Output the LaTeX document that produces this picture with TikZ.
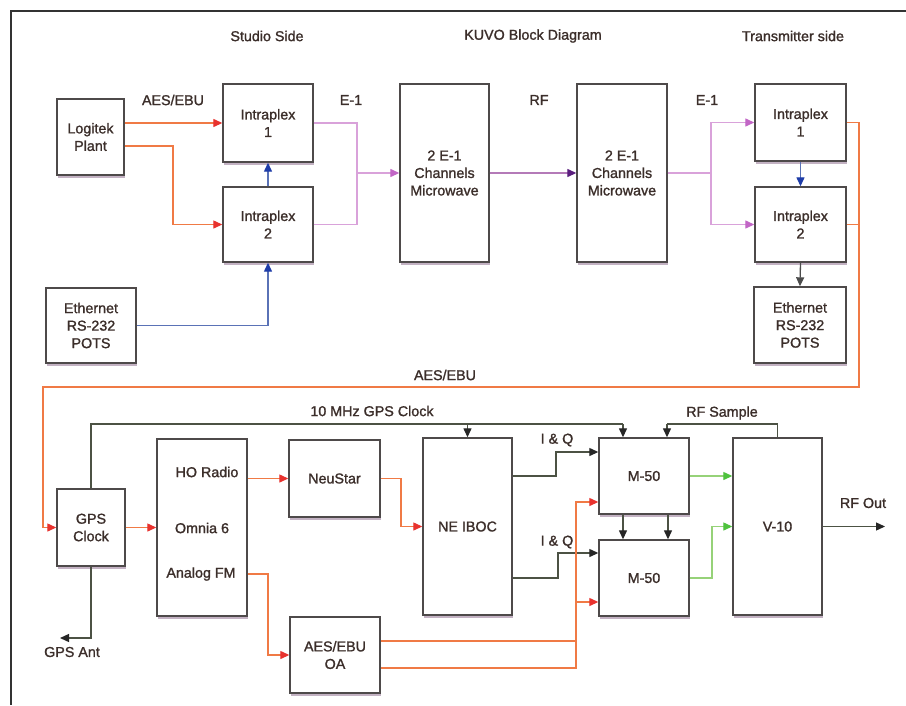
\documentclass[tikz,border=0pt]{standalone}
\usepackage{fontspec}
\setmainfont{Liberation Sans}[BoldFont=Liberation Sans, BoldFeatures={FakeBold=1.3}]
\usetikzlibrary{arrows.meta,shadows,calc}
\definecolor{txt}{HTML}{3B2E2A}
\definecolor{boxline}{HTML}{4E4A4A}
\definecolor{aesline}{HTML}{F07A45}
\definecolor{aestip}{HTML}{E8322E}
\definecolor{eline}{HTML}{D9A2DA}
\definecolor{etip}{HTML}{C266C6}
\definecolor{rfline}{HTML}{B47AB8}
\definecolor{rftip}{HTML}{5A1E7E}
\definecolor{ctlline}{HTML}{5A72B6}
\definecolor{ctltip}{HTML}{1E3CA8}
\definecolor{clkline}{HTML}{4C5244}
\definecolor{grline}{HTML}{96D278}
\definecolor{grtip}{HTML}{4EC23E}
\tikzset{
  blk/.style={draw=boxline, line width=1.4pt, fill=white, align=center, inner sep=0pt,
    text=txt, font=\fontsize{14.3}{17.5}\selectfont\bfseries,
    drop shadow={shadow xshift=1pt, shadow yshift=-2.5pt, fill=black!55!violet!60, opacity=0.5}},
  lbl/.style={text=txt, font=\fontsize{14.3}{17.5}\selectfont\bfseries, inner sep=0pt},
  aes/.style={draw=aesline, line width=1.3pt},
  aesa/.style={aes, arrows={-{Triangle[length=9pt,width=8pt,color=aestip]}}},
  eone/.style={draw=eline, line width=1.3pt},
  eonea/.style={eone, arrows={-{Triangle[length=9pt,width=8pt,color=etip]}}},
  ctl/.style={draw=ctlline, line width=1.3pt, arrows={-{Triangle[length=9pt,width=8pt,color=ctltip]}}},
  clk/.style={draw=clkline, line width=1.3pt},
  clka/.style={clk, arrows={-{Triangle[length=9pt,width=8pt,color=black!85]}}},
  grn/.style={draw=grline, line width=1.3pt, arrows={-{Triangle[length=9pt,width=8pt,color=grtip]}}},
}
\begin{document}
\begin{tikzpicture}[x=1pt,y=-1pt]
\useasboundingbox (0,0) rectangle (906,705);
\fill[white] (0,0) rectangle (906,705);
% frame
\draw[line width=2.2pt, black!80] (906,11) -- (11,11) -- (11,705);

% titles
\node[lbl] (t1) at (267,36) {Studio Side};
\node[lbl] (t2) at (533,36) {KUVO Block Diagram};
\node[lbl] (t3) at (793,36) {Transmitter side};

% top row boxes
\node[blk, minimum width=67pt, minimum height=76pt] (logi) at (90.5,137) {Logitek\\Plant};
\node[blk, minimum width=90pt, minimum height=78pt] (ip1) at (268,123) {Intraplex\\1};
\node[blk, minimum width=90pt, minimum height=75pt] (ip2) at (268,224.5) {Intraplex\\2};
\node[blk, minimum width=90pt, minimum height=75pt] (eth) at (91,325.5) {Ethernet\\RS-232\\POTS};
\node[blk, minimum width=89pt, minimum height=178pt] (mw1) at (444.5,173) {2 E-1\\Channels\\Microwave};
\node[blk, minimum width=90pt, minimum height=178pt] (mw2) at (622,173) {2 E-1\\Channels\\Microwave};
\node[blk, minimum width=91pt, minimum height=77pt] (ip1r) at (800.5,122.5) {Intraplex\\1};
\node[blk, minimum width=91pt, minimum height=75pt] (ip2r) at (800.5,224.5) {Intraplex\\2};
\node[blk, minimum width=92pt, minimum height=76pt] (ethr) at (800,325) {Ethernet\\RS-232\\POTS};

% bottom row boxes
\node[blk, minimum width=68pt, minimum height=77pt] (gps) at (91,527.5) {GPS\\Clock};
\node[blk, minimum width=90pt, minimum height=177pt] (omn) at (202,527.5) {};
\node[lbl] (ho) at (207,472) {HO Radio};
\node[lbl] (om) at (202,528) {Omnia 6};
\node[lbl] (afm) at (201,574) {Analog FM};
\node[blk, minimum width=91pt, minimum height=77pt] (neu) at (334.5,478.5) {NeuStar};
\node[blk, minimum width=90pt, minimum height=76pt] (oa) at (335,655) {AES/EBU\\OA};
\node[blk, minimum width=89pt, minimum height=177pt] (ibo) at (467.5,526.5) {NE IBOC};
\node[blk, minimum width=90pt, minimum height=76pt] (m1) at (644,476) {M-50};
\node[blk, minimum width=90pt, minimum height=76pt] (m2) at (644,578) {M-50};
\node[blk, minimum width=89pt, minimum height=177pt] (v10) at (777.5,526.5) {V-10};

% labels
\node[lbl] (l1) at (173,100) {AES/EBU};
\node[lbl] (l2) at (351,100) {E-1};
\node[lbl] (l3) at (539,100) {RF};
\node[lbl] (l4) at (707,100) {E-1};
\node[lbl] (l5) at (445,375) {AES/EBU};
\node[lbl] (l6) at (372,411) {10 MHz GPS Clock};
\node[lbl] (l7) at (722,413) {RF Sample};
\node[lbl] (l8) at (557,440) {I \& Q};
\node[lbl] (l9) at (557,542) {I \& Q};
\node[lbl] (l10) at (863,503) {RF Out};
\node[lbl] (l11) at (72,652) {GPS Ant};

% studio side connectors
\draw[aesa] (logi.east |- ip1.west) -- (ip1.west);
\draw[aesa] ([yshift=-9pt]logi.east) -| (173,224.5) -- (ip2.west);
\draw[eonea] (ip1.east) -| (357,173) -- (mw1.west);
\draw[eone] (ip2.east) -| (357,173);
\draw[ctl] (eth.east) -| (ip2.south);
\draw[ctl] (ip2.north) -- (ip1.south);
\draw[draw=rfline, line width=1.3pt, arrows={-{Triangle[length=9pt,width=8pt,color=rftip]}}] (mw1.east) -- (mw2.west);

% transmitter side
\coordinate (sp) at (711,173);
\draw[eone] (mw2.east) -- (sp);
\draw[eonea] (sp) |- (ip1r.west);
\draw[eonea] (sp) |- (ip2r.west);
\draw[ctl] (ip1r.south) -- (ip2r.north);
\draw[draw=black!70, line width=1.3pt, arrows={-{Triangle[length=9pt,width=8pt,color=black!70]}}] (ip2r.south) -- (ethr.north);
\draw[aes] (ip2r.east) -| (859,224.5);
\draw[aesa] (ip1r.east) -| (859,387) -| (43,527.5) -- (gps.west);

% clock lines
\draw[clk] (gps.north) |- (623,424);
\draw[clka] (623,424) -- ([xshift=-21pt]m1.north);
\draw[clka] (467.5,424) -- (ibo.north);
\draw[clk] (v10.north) |- (667,424);
\draw[clka] (667,424) -- ([xshift=23pt]m1.north);
\draw[clka] (gps.south) |- (60,638);

% bottom chain
\draw[aesa] (gps.east) -- (omn.west |- gps.east);
\draw[aesa] (omn.east |- neu.west) -- (neu.west);
\draw[aesa] (neu.east) -| (401,526.5) -- (ibo.west);
\draw[aesa] (omn.east |- afm) -| (268,655) -- (oa.west);
\draw[clka] (ibo.east |- m1.west) -| (556,452) -- ([yshift=24pt]m1.west);
\draw[clka] (ibo.east |- m2.west) -| (558,553) -- ([yshift=25pt]m2.west);
\draw[aesa] ([yshift=14pt]oa.east) -| (576,502) -- ([yshift=-26pt]m1.west);
\draw[aesa] ([yshift=-13pt]oa.east) -| (576,602) -- ([yshift=-24pt]m2.west);
\draw[clka] ([xshift=-21pt]m1.south) -- ([xshift=-21pt]m2.north);
\draw[clka] ([xshift=24pt]m1.south) -- ([xshift=24pt]m2.north);
\draw[grn] (m1.east) -- (v10.west |- m1.east);
\draw[grn] (m2.east) -| (712,526.5) -- (v10.west);
\coordinate (rfo) at (885,526.5);
\draw[clka] (v10.east) -- (rfo);
\end{tikzpicture}
\end{document}
